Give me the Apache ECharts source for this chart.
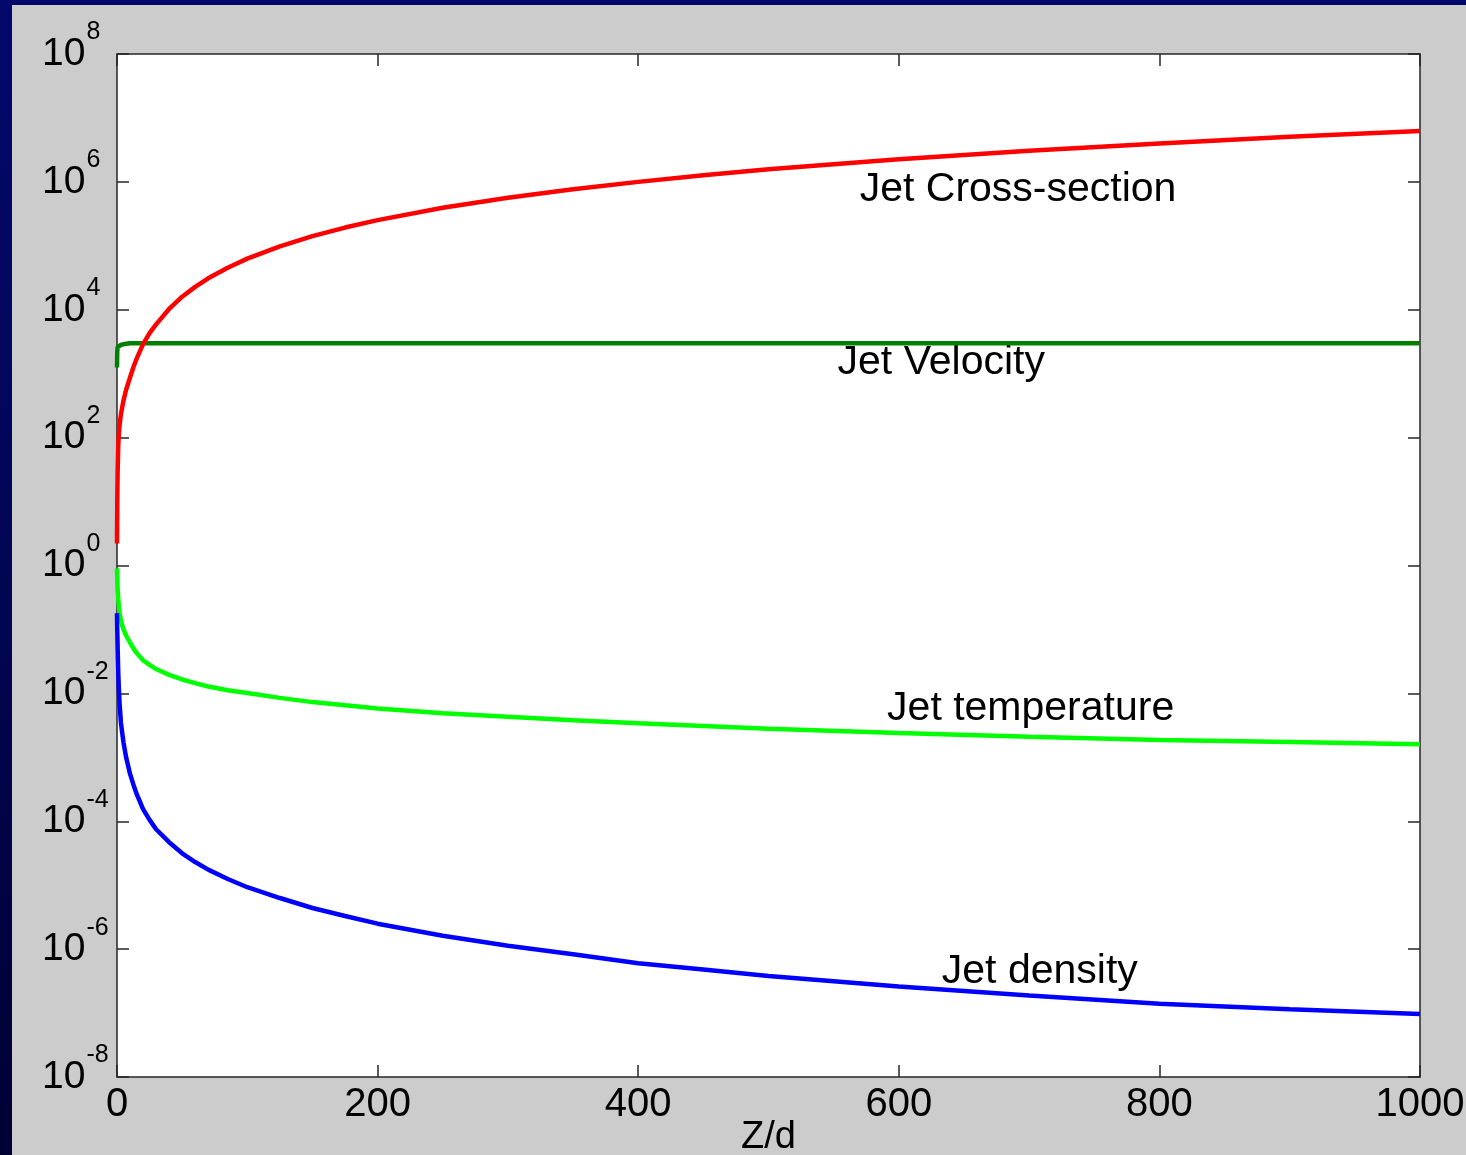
<!DOCTYPE html>
<html>
<head>
<meta charset="utf-8">
<script src="https://cdn.jsdelivr.net/npm/echarts@6/dist/echarts.min.js"></script>
<style>
  html, body { margin: 0; padding: 0; width: 1466px; height: 1155px; overflow: hidden;
    background: linear-gradient(to bottom, #03086c 0%, #020656 45%, #000133 100%); }
  #chart { position: absolute; left: 12px; top: 5px; width: 1454px; height: 1150px; background: #cccccc; }
</style>
</head>
<body>
<div id="chart"></div>
<script>
// Distance along the jet, Z/d
const zd = [0, 0.2, 0.5, 1, 1.5, 2, 3, 4, 5, 7, 10, 12.5, 15, 20, 25, 30, 40, 50, 60, 70, 85, 100,
            125, 150, 175, 200, 250, 300, 350, 400, 450, 500, 600, 700, 800, 900, 1000];

// Jet quantities (normalised) at each Z/d
const crossSection = [2.2, 10, 30, 80, 120, 160, 230, 300, 380, 560, 870, 1250, 1700, 2900, 4300, 5900, 10300, 16000, 22800, 31000, 45500, 63000,
                      98000, 142000, 193000, 252000, 393000, 565000, 768000, 1.0e6, 1.27e6, 1.57e6, 2.25e6, 3.07e6, 4.0e6, 5.07e6, 6.25e6];
const velocity = [1250, 2200, 2600, 2750, 2780, 2800, 2820, 2850, 2880, 2950, 3000, 3000, 3000, 3000, 3000, 3000, 3000, 3000, 3000, 3000, 3000, 3000,
                  3000, 3000, 3000, 3000, 3000, 3000, 3000, 3000, 3000, 3000, 3000, 3000, 3000, 3000, 3000];
const temperature = [0.9, 0.6, 0.42, 0.3, 0.22, 0.18, 0.14, 0.115, 0.1, 0.08, 0.062, 0.051, 0.043, 0.033, 0.028, 0.024, 0.0195, 0.0165, 0.0145, 0.0128, 0.0112, 0.0101,
                     0.0085, 0.0073, 0.0065, 0.0058, 0.0049, 0.0043, 0.0038, 0.0034, 0.0031, 0.0028, 0.0024, 0.0021, 0.00187, 0.00173, 0.0016];
const density = [0.18, 0.1, 0.05, 0.02, 0.011, 0.0068, 0.0035, 0.0024, 0.0017, 0.001, 5.5e-4, 3.8e-4, 2.7e-4, 1.55e-4, 1.05e-4, 7.5e-5, 4.7e-5, 3.15e-5, 2.3e-5, 1.75e-5, 1.25e-5, 9.3e-6,
                 6.3e-6, 4.4e-6, 3.3e-6, 2.5e-6, 1.62e-6, 1.13e-6, 8.3e-7, 6.0e-7, 4.8e-7, 3.8e-7, 2.6e-7, 1.88e-7, 1.4e-7, 1.15e-7, 9.7e-8];

// Axis ticks
const xTicks = [0, 200, 400, 600, 800, 1000];
const yExponents = [-8, -6, -4, -2, 0, 2, 4, 6, 8];

// Curve names written beside each line (anchor = left/middle of text, in data units)
const curveLabels = [
  { text: 'Jet Cross-section', z: 570, v: 7.6e5 },
  { text: 'Jet Velocity', z: 553, v: 1500 },
  { text: 'Jet temperature', z: 591, v: 5.8e-3 },
  { text: 'Jet density', z: 633, v: 4.4e-7 }
];

const FONT = '"Liberation Sans", Arial, sans-serif';
const AXIS_COLOR = '#262626';

const pairs = vals => zd.map((z, i) => [z, vals[i]]);

const line = (name, vals, color) => ({
  name, type: 'line', xAxisIndex: 0, yAxisIndex: 0,
  data: pairs(vals), showSymbol: false, symbol: 'none', smooth: false,
  lineStyle: { color, width: 4.5 }, silent: true, animation: false
});

const boxAxis = {
  axisLine: { show: true, onZero: false, lineStyle: { color: AXIS_COLOR, width: 1.5 } },
  axisTick: { show: true, inside: true, length: 12, lineStyle: { color: AXIS_COLOR, width: 1.5 } },
  splitLine: { show: false }
};

const chart = echarts.init(document.getElementById('chart'), null, { renderer: 'canvas' });

chart.setOption({
  animation: false,
  backgroundColor: '#cccccc',
  grid: { left: 105, top: 49, right: 46, bottom: 78, show: true, backgroundColor: '#ffffff', borderWidth: 0,
          containLabel: false, outerBoundsMode: 'none' },
  xAxis: [
    Object.assign({}, boxAxis, {
      type: 'value', position: 'bottom', min: xTicks[0], max: xTicks[xTicks.length - 1], interval: 200,
      axisLabel: { show: true, margin: 8, color: '#000', fontSize: 40, fontFamily: FONT, formatter: v => String(v) },
      name: 'Z/d', nameLocation: 'middle', nameGap: 42, nameMoveOverlap: false,
      nameTextStyle: { color: '#000', fontSize: 38, fontFamily: FONT, verticalAlign: 'top' }
    }),
    Object.assign({}, boxAxis, {
      type: 'value', position: 'top', min: xTicks[0], max: xTicks[xTicks.length - 1], interval: 200,
      axisLabel: { show: false }
    })
  ],
  yAxis: [
    // data scale (logarithmic)
    { type: 'log', logBase: 10, min: Math.pow(10, yExponents[0]), max: Math.pow(10, yExponents[yExponents.length - 1]),
      position: 'left', show: false },
    // decade ticks and 10^n labels
    Object.assign({}, boxAxis, {
      type: 'value', position: 'left', min: yExponents[0], max: yExponents[yExponents.length - 1], interval: 2,
      axisLabel: {
        show: true, margin: 75, align: 'left', color: '#000', fontFamily: FONT,
        formatter: v => '{b|10}{s|' + v + '}',
        rich: {
          b: { fontSize: 39, lineHeight: 39, fontFamily: FONT, color: '#000' },
          s: { fontSize: 25, lineHeight: 25, fontFamily: FONT, color: '#000', padding: [0, 0, 43, 1] }
        }
      }
    }),
    Object.assign({}, boxAxis, {
      type: 'value', position: 'right', min: yExponents[0], max: yExponents[yExponents.length - 1], interval: 2,
      axisLabel: { show: false }
    })
  ],
  series: [
    line('Jet Velocity', velocity, '#008000'),
    line('Jet Cross-section', crossSection, '#ff0000'),
    line('Jet temperature', temperature, '#00ff00'),
    line('Jet density', density, '#0000ff')
  ]
});

chart.setOption({
  graphic: curveLabels.map(a => {
    const p = chart.convertToPixel({ xAxisIndex: 0, yAxisIndex: 0 }, [a.z, a.v]);
    return {
      type: 'text', x: p[0], y: p[1], silent: true,
      style: { text: a.text, fill: '#000', fontSize: 41, fontFamily: FONT, align: 'left', verticalAlign: 'middle' }
    };
  })
});
</script>
</body>
</html>
